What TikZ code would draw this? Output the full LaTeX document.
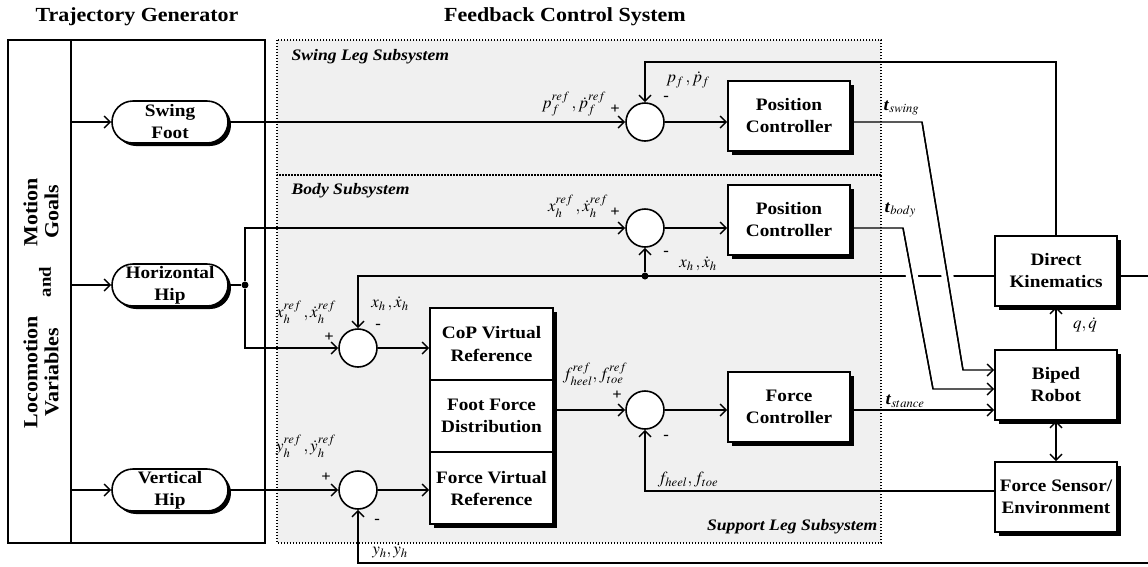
\documentclass[tikz,border=0pt]{standalone}
\usepackage{mathptmx}
\usepackage{fontspec}
\setmainfont{Liberation Serif}[FakeStretch=1.1]
\usetikzlibrary{arrows.meta,shadows}
\definecolor{regbg}{RGB}{240,240,240}
\begin{document}
\begin{tikzpicture}[
    x=1pt, y=-1pt, line width=1.4pt,
    >={Straight Barb[length=6pt,width=12pt]},
    boxbase/.style={draw, fill=white, line width=1.6pt, inner sep=0pt, align=center,
      font=\fontsize{17.5}{22}\selectfont\bfseries},
    blk/.style={boxbase, minimum width=122pt, minimum height=70pt,
      drop shadow={shadow xshift=4pt, shadow yshift=-4pt, fill=black, opacity=1}},
    cell/.style={boxbase, minimum width=123pt, minimum height=72pt,
      drop shadow={shadow xshift=4pt, shadow yshift=-4pt, fill=black, opacity=1}},
    oval/.style={boxbase, rounded corners=21pt, minimum width=116pt, minimum height=42pt,
      drop shadow={shadow xshift=3pt, shadow yshift=-3pt, fill=black, opacity=1}},
    sumj/.style={circle, draw, fill=white, line width=1.6pt, minimum size=38pt, inner sep=0pt},
    jdot/.style={circle, fill=black, minimum size=7pt, inner sep=0pt},
    sig/.style={font=\fontsize{17}{19}\selectfont, inner sep=0pt},
    pm/.style={font=\fontsize{15}{15}\selectfont\bfseries, inner sep=0pt},
    subl/.style={font=\fontsize{16}{18}\selectfont\bfseries\itshape, inner sep=0pt},
    ttl/.style={font=\fontsize{20}{22}\selectfont\bfseries},
    sidel/.style={font=\fontsize{20}{21}\selectfont\bfseries, rotate=90, align=center, inner sep=0pt},
    regline/.style={line width=1.4pt, dash pattern=on 1.4pt off 1.6pt},
    jump/.style={preaction={draw=white, line width=12pt}}
  ]
  \useasboundingbox (0,0) rectangle (1148,566);

  % titles
  \node[ttl] (ttg) at (137,17) {Trajectory Generator};
  \node[ttl] (tfc) at (565,17) {Feedback Control System};

  % trajectory generator
  \draw[line width=1.6pt] (8,40) rectangle (265,543);
  \draw[line width=1.6pt] (71,40) -- (71,543);
  \node[sidel] (lv) at (41,372) {Locomotion\\Variables};
  \node[sidel, font=\fontsize{17}{18}\selectfont\bfseries] (land) at (45,282) {and};
  \node[sidel] (mg) at (41,212) {Motion\\Goals};

  \node[oval] (swf)  at (170,122) {Swing\\Foot};
  \node[oval] (hhip) at (170,285) {Horizontal\\Hip};
  \node[oval] (vhip) at (170,490) {Vertical\\Hip};
  \coordinate (tg1) at (71,122);
  \coordinate (tg2) at (71,285);
  \coordinate (tg3) at (71,490);
  \draw[->] (tg1) -- (swf.west);
  \draw[->] (tg2) -- (hhip.west);
  \draw[->] (tg3) -- (vhip.west);

  % feedback control system regions
  \fill[regbg] (277,40) rectangle (881,543);
  \draw[regline] (277,40) rectangle (881,175);
  \draw[regline] (277,175) rectangle (881,543);
  \node[subl, anchor=west] (lsw) at (291,57) {Swing Leg Subsystem};
  \node[subl, anchor=west] (lbd) at (291,191) {Body Subsystem};
  \node[subl, anchor=east] (lsp) at (878,527) {Support Leg Subsystem};

  % summing junctions
  \node[sumj] (sj) at (645,122) {};
  \node[sumj] (bj) at (645,228) {};
  \node[sumj] (cj) at (358,348) {};
  \node[sumj] (fj) at (645,410) {};
  \node[sumj] (vj) at (358,490) {};

  % controllers
  \node[blk] (spc) at (789,116) {Position\\Controller};
  \node[blk] (bpc) at (789,220) {Position\\Controller};
  \node[blk] (fc)  at (789,407) {Force\\Controller};
  \node[cell] (cop) at (491.5,344) {CoP Virtual\\Reference};
  \node[cell] (ffd) at (491.5,416) {Foot Force\\Distribution};
  \node[cell] (fvr) at (491.5,488) {Force Virtual\\Reference};

  % robot side
  \node[blk] (dk) at (1056,271) {Direct\\Kinematics};
  \node[blk] (br) at (1056,385) {Biped\\Robot};
  \node[blk] (fs) at (1056,497) {Force Sensor/\\Environment};

  % references
  \draw[->] (swf.east) -- (sj.west);
  \node[jdot] (hd) at (245,285) {};
  \draw (hhip.east) -- (hd);
  \draw[->] (hd) |- (bj.west);
  \draw[->] (hd) |- (cj.west);
  \draw[->] (vhip.east) -- (vj.west);

  % forward paths
  \draw[->] (sj.east) -- (sj.east -| spc.west);
  \draw[->] (bj.east) -- (bj.east -| bpc.west);
  \draw[->] (cj.east) -- (cj.east -| cop.west);
  \draw[->] (vj.east) -- (vj.east -| fvr.west);
  \draw[->] (ffd.east |- fj) -- (fj.west);
  \draw[->] (fj.east) -- (fj.east -| fc.west);

  % feedback lines
  \coordinate (fbs) at (645,62);
  \draw[->] (dk.north) |- (fbs) -- (sj.north);
  \coordinate (fbx) at (358,276);
  \node[jdot] (bd) at (645,276) {};
  \draw[->] (dk.west |- fbx) -- (fbx) -- (cj.north);
  \draw[->] (bd) -- (bj.south);
  \coordinate (eR1) at (1148,276);
  \draw (dk.east |- fbx) -- (eR1);
  \coordinate (ffb) at (645,491);
  \draw[->] (fs.west |- ffb) -- (ffb) -- (fj.south);
  \coordinate (eR2) at (1148,563);
  \coordinate (ybot) at (358,563);
  \draw[->] (eR2) -- (ybot) -- (vj.south);
  \draw[->] (br.north) -- (dk.south);
  \draw[<->] (br.south) -- (fs.north);

  % torques
  \coordinate (ts1) at (922,122);
  \coordinate (ts2) at (963,370);
  \coordinate (tb1) at (903,228);
  \coordinate (tb2) at (933,389);
  \draw[jump] (ts1) -- (ts2);
  \draw[jump] (tb1) -- (tb2);
  \draw[->] (spc.east |- sj) -- (ts1) -- (ts2) -- (ts2 -| br.west);
  \draw[->] (bpc.east |- bj) -- (tb1) -- (tb2) -- (tb2 -| br.west);
  \draw[->] (fc.east |- fj) -- (fj -| br.west);

  % signal labels
  \node[sig] (lpr) at (574,104) {$p_f^{ref}\,,\dot{p}_f^{ref}$};
  \node[sig] (lp)  at (688,80)  {$p_f\,,\dot{p}_f$};
  \node[sig] (lxr1) at (578,206) {$x_h^{ref}\,,\dot{x}_h^{ref}$};
  \node[sig] (lx1) at (698,264) {$x_h\,,\dot{x}_h$};
  \node[sig] (lxr2) at (306,312) {$x_h^{ref}\,,\dot{x}_h^{ref}$};
  \node[sig] (lx2) at (390,304) {$x_h\,,\dot{x}_h$};
  \node[sig] (lfr) at (595,374) {$f_{heel}^{ref}, f_{toe}^{ref}$};
  \node[sig] (lf)  at (688,480) {$f_{heel}, f_{toe}$};
  \node[sig] (lyr) at (306,446) {$y_h^{ref}\,,\dot{y}_h^{ref}$};
  \node[sig] (ly)  at (390,551) {$y_h, \dot{y}_h$};
  \node[sig] (lq)  at (1085,325) {$q, \dot{q}$};
  \node[sig, anchor=west] (lts) at (883,108) {\textbf{\itshape t}$_{swing}$};
  \node[sig, anchor=west] (ltb) at (884,210) {\textbf{\itshape t}$_{body}$};
  \node[sig, anchor=west] (ltt) at (885,401) {\textbf{\itshape t}$_{stance}$};

  % signs
  \node[pm] (sp1) at (615,109) {+};
  \node[pm] (sm1) at (666,98)  {-};
  \node[pm] (sp2) at (615,212) {+};
  \node[pm] (sm2) at (666,253) {-};
  \node[pm] (sp3) at (329,337) {+};
  \node[pm] (sm3) at (378,326) {-};
  \node[pm] (sp4) at (617,395) {+};
  \node[pm] (sm4) at (666,437) {-};
  \node[pm] (sp5) at (326,477) {+};
  \node[pm] (sm5) at (377,521) {-};
\end{tikzpicture}
\end{document}
